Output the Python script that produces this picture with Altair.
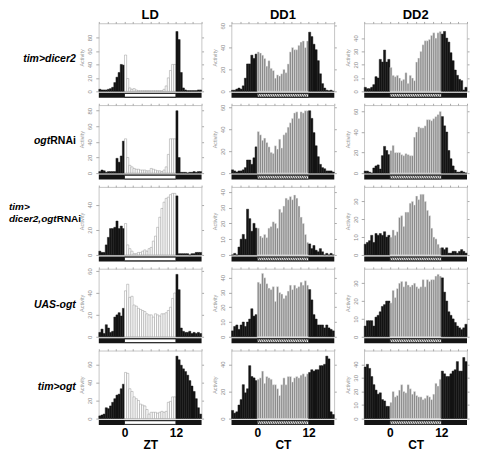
import altair as alt
import pandas as pd

FONT = "Liberation Sans"
HOURS = [-6 + 0.5 * i for i in range(48)]
CONDITIONS = ["LD", "DD1", "DD2"]
XLABELS = {"LD": "ZT", "DD1": "CT", "DD2": "CT"}
TICK_LABELS = [0, 12]
TOP_TICKS = [-6, -4, -2, 0, 2, 4, 6, 8, 10, 12, 14, 16, 18]
DAY_SPAN = [0, 12]
FULL_SPAN = [-6, 18]

# ---- activity values (half-hour bins, ZT/CT -6 .. 18) ----
r1_ld = [3, 2, 2, 2, 3, 4, 6, 13, 21, 28, 40, 39,
         54, 19, 5, 3, 4, 2, 1, 1, 1, 1, 1, 1, 1, 1, 1, 1, 1, 1, 3, 8, 20, 31, 40, 40,
         89, 77, 28, 5, 2, 1, 1, 1, 1, 1, 2, 2]
r1_dd1 = [1, 1, 2, 3, 2, 5, 12, 25, 25, 33, 30, 34,
          36, 35, 33, 30, 23, 28, 21, 19, 12, 15, 14, 16, 20, 17, 25, 36, 40, 38, 38, 42, 45, 46, 40, 46,
          54, 50, 43, 38, 28, 16, 7, 3, 1, 0.5, 1, 0]
r1_dd2 = [3, 2, 2, 3, 5, 11, 10, 24, 22, 31, 22, 24,
          18, 12, 11, 12, 10, 8, 9, 14, 6, 12, 10, 8, 22, 25, 30, 35, 38, 38, 39, 42, 44, 40, 44, 45,
          43, 45, 40, 37, 29, 23, 16, 12, 9, 8, 1, 3]
r2_ld = [2, 4, 3, 1, 2, 2, 2, 2, 19, 14, 22, 41,
         44, 20, 10, 8, 6, 5, 5, 4, 4, 4, 3, 3, 6, 5, 4, 3, 3, 2, 4, 8, 24, 44, 44, 44,
         80, 20, 1, 1, 1, 0, 1, 1, 2, 1, 2, 2]
r2_dd1 = [3, 2, 1, 2, 2, 3, 5, 12, 12, 8, 14, 24,
          38, 35, 30, 32, 28, 24, 19, 18, 25, 22, 31, 23, 35, 37, 42, 46, 50, 55, 56, 50, 56, 55, 57, 57,
          57, 50, 37, 25, 15, 8, 5, 4, 2, 2, 2, 1]
r2_dd2 = [2, 2, 1, 0, 5, 7, 8, 4, 17, 26, 22, 18,
          22, 27, 20, 20, 20, 18, 17, 19, 18, 17, 17, 35, 40, 45, 44, 44, 46, 52, 52, 51, 53, 55, 57, 60,
          55, 46, 40, 22, 14, 7, 3, 1, 1, 2, 1, 0]
r3_ld = [3, 2, 2, 8, 14, 21, 21, 22, 27, 21, 23, 21,
         25, 8, 5, 3, 1, 1, 2, 2, 3, 4, 3, 5, 6, 11, 15, 22, 30, 37, 42, 45, 46, 48, 49, 49,
         47, 1, 1, 1, 1, 1, 0, 1, 1, 2, 2, 2]
r3_dd1 = [0, 1, 0, 5, 10, 13, 10, 29, 23, 15, 20, 17,
          17, 12, 11, 13, 11, 17, 18, 21, 20, 17, 29, 27, 31, 36, 35, 37, 35, 38, 36, 31, 24, 20, 13, 8,
          7, 4, 6, 3, 2, 4, 2, 0, 1, 0, 1, 0]
r3_dd2 = [6, 7, 8, 11, 7, 12, 11, 12, 11, 13, 10, 11,
          10, 14, 11, 13, 21, 22, 16, 24, 24, 29, 30, 28, 33, 31, 34, 34, 30, 25, 22, 15, 10, 9, 6, 4,
          4, 3, 4, 1, 1, 2, 2, 1, 2, 3, 2, 1]
r4_ld = [4, 7, 3, 11, 8, 4, 5, 18, 20, 22, 19, 26,
         42, 48, 36, 37, 29, 28, 26, 25, 24, 23, 21, 20, 20, 18, 21, 20, 19, 21, 21, 22, 24, 27, 35, 40,
         57, 43, 8, 5, 4, 4, 5, 3, 4, 3, 4, 3]
r4_dd1 = [4, 7, 8, 5, 8, 10, 7, 10, 12, 19, 14, 15,
          37, 36, 43, 40, 36, 33, 32, 34, 24, 34, 30, 29, 26, 28, 31, 35, 32, 35, 33, 34, 37, 35, 38, 35,
          32, 25, 15, 12, 8, 8, 8, 6, 8, 6, 5, 4]
r4_dd2 = [6, 9, 9, 9, 6, 11, 12, 14, 17, 18, 20, 20,
          19, 26, 22, 27, 30, 31, 28, 31, 29, 28, 29, 30, 28, 27, 28, 32, 28, 32, 31, 32, 32, 34, 35, 34,
          33, 25, 20, 14, 12, 10, 8, 6, 5, 4, 5, 7]
r5_ld = [3, 4, 5, 12, 11, 14, 18, 22, 26, 27, 33, 38,
         51, 50, 33, 30, 24, 22, 20, 16, 15, 14, 10, 5, 7, 7, 7, 6, 7, 8, 7, 8, 18, 19, 24, 24,
         69, 65, 59, 55, 52, 48, 42, 36, 30, 22, 12, 5]
r5_dd1 = [6, 4, 5, 10, 14, 25, 19, 22, 39, 31, 30, 28,
          29, 30, 35, 26, 31, 30, 29, 25, 25, 22, 17, 25, 30, 25, 31, 31, 27, 30, 31, 30, 32, 33, 31, 33,
          34, 36, 35, 36, 36, 39, 39, 40, 46, 44, 5, 3]
r5_dd2 = [38, 40, 37, 31, 25, 21, 18, 19, 14, 13, 9, 9,
          12, 20, 16, 17, 21, 25, 20, 19, 25, 22, 18, 20, 17, 16, 16, 14, 15, 17, 16, 14, 18, 26, 24, 29,
          35, 33, 31, 31, 33, 35, 36, 42, 35, 35, 45, 42]

ROWS = [
    [r1_ld, r1_dd1, r1_dd2],
    [r2_ld, r2_dd1, r2_dd2],
    [r3_ld, r3_dd1, r3_dd2],
    [r4_ld, r4_dd1, r4_dd2],
    [r5_ld, r5_dd1, r5_dd2],
]
Y_TOP = [[101, 62, 51], [87, 62, 66], [54, 43, 38], [62, 46, 38], [75, 50, 50]]
Y_TICKS = [
    [[0, 20, 40, 60, 80], [0, 20, 40, 60], [0, 10, 20, 30, 40]],
    [[0, 20, 40, 60, 80], [0, 20, 40, 60], [0, 20, 40, 60]],
    [[0, 20, 40], [0, 10, 20, 30, 40], [0, 10, 20, 30]],
    [[0, 20, 40, 60], [0, 10, 20, 30, 40], [0, 10, 20, 30]],
    [[0, 20, 40, 60], [0, 20, 40], [0, 10, 20, 30, 40]],
]
HATCH_STEP = 0.42

PW, PH = 103, 68
XSCALE = alt.Scale(domain=FULL_SPAN, nice=False, zero=False, padding=0)


def panel(values, cond, ymax, ticks, bottom, title):
    day_phase = "light" if cond == "LD" else "subjective"
    phase = [day_phase if DAY_SPAN[0] <= h < DAY_SPAN[1] else "dark" for h in HOURS]
    df = pd.DataFrame({"start": HOURS, "end": [h + 0.5 for h in HOURS],
                       "value": values, "zero": [0] * len(HOURS), "phase": phase})
    yscale = alt.Scale(domain=[0, ymax], nice=False, zero=True)
    bars = alt.Chart(df).mark_rect(strokeWidth=0.45).encode(
        x=alt.X("start:Q", scale=XSCALE,
                axis=alt.Axis(orient="top", values=TOP_TICKS, labels=False, tickSize=2,
                              tickColor="#aaaaaa", domain=False, grid=False, title=None)),
        x2="end:Q",
        y=alt.Y("value:Q", scale=yscale,
                axis=alt.Axis(orient="left", values=ticks, title="Activity",
                              titleFontSize=5.5, titleColor="#999999", titleFontWeight="normal",
                              titlePadding=2, labelFontSize=6, labelColor="#8a8a8a",
                              labelAngle=270, labelAlign="center", labelBaseline="bottom",
                              labelPadding=3, tickSize=3, tickColor="#aaaaaa",
                              domain=False, grid=False)),
        y2="zero:Q",
        color=alt.Color("phase:N", legend=None,
                        scale=alt.Scale(domain=["dark", "light", "subjective"],
                                        range=["#141414", "#ffffff", "#8a8a8a"])),
        stroke=alt.Stroke("phase:N", legend=None,
                          scale=alt.Scale(domain=["dark", "light", "subjective"],
                                          range=["#141414", "#8c8c8c", "#f2f2f2"])),
    )
    ghost = alt.Chart(df).mark_point(opacity=0).encode(
        x=alt.X("start:Q", scale=XSCALE, axis=None),
        y=alt.Y("value:Q", scale=yscale,
                axis=alt.Axis(orient="right", values=ticks, labels=False, tickSize=2,
                              tickColor="#aaaaaa", domain=False, grid=False, title=None)),
    )
    if bottom:
        baxis = alt.Axis(orient="bottom", values=TICK_LABELS, labelFontSize=12,
                         labelFontWeight="bold", labelColor="black", ticks=False,
                         domain=False, grid=False, title=XLABELS[cond], titleFontSize=12,
                         titleFontWeight="bold", titleColor="black", offset=7,
                         labelPadding=2, titlePadding=1)
    else:
        baxis = None
    strip_bg = alt.Chart(pd.DataFrame({"start": [FULL_SPAN[0]], "end": [FULL_SPAN[1]]})).mark_rect(
        color="#141414").encode(
        x=alt.X("start:Q", scale=XSCALE, axis=baxis),
        x2="end:Q",
        y=alt.value(PH + 1.5), y2=alt.value(PH + 6.5),
    )
    strip_day = alt.Chart(pd.DataFrame({"start": [DAY_SPAN[0]], "end": [DAY_SPAN[1]]})).mark_rect(
        fill="#ffffff", stroke="#141414", strokeWidth=0.8).encode(
        x=alt.X("start:Q", scale=XSCALE, axis=None),
        x2="end:Q",
        y=alt.value(PH + 2.2), y2=alt.value(PH + 5.8),
    )
    layers = [bars, ghost, strip_bg, strip_day]
    if cond != "LD":
        n = int((DAY_SPAN[1] - DAY_SPAN[0]) / HATCH_STEP)
        hx = [DAY_SPAN[0] + HATCH_STEP * i for i in range(n)]
        hdf = pd.DataFrame({"start": hx, "end": [h + HATCH_STEP for h in hx]})
        hatch = alt.Chart(hdf).mark_rule(color="#222222", strokeWidth=0.8).encode(
            x=alt.X("start:Q", scale=XSCALE, axis=None),
            x2="end:Q",
            y=alt.value(PH + 6), y2=alt.value(PH + 2),
        )
        layers.append(hatch)
    ch = alt.layer(*layers).resolve_axis(x="independent", y="independent")
    props = dict(width=PW, height=PH)
    if title:
        props["title"] = alt.TitleParams(text=cond, fontSize=13, fontWeight="bold", font=FONT,
                                          offset=-1, anchor="middle", color="black")
    return ch.properties(**props)


def text_layer(txt, x, y, align, italic, size=10.5):
    return alt.Chart(pd.DataFrame({"t": [txt]})).mark_text(
        font=FONT, fontSize=size, fontWeight="bold", fontStyle="italic" if italic else "normal",
        align=align, baseline="middle", color="black").encode(
        text="t:N", x=alt.value(x), y=alt.value(y))


RIGHT = 67
LABEL_PARTS = [
    [("tim>dicer2", RIGHT, 36, "right", True)],
    [("RNAi", RIGHT, 36, "right", False), ("ogt", RIGHT - 25.7, 36, "right", True)],
    [("tim>", 0, 20, "left", True, 10), ("dicer2,ogt", 0, 32, "left", True, 10),
     ("RNAi", 47.8, 32, "left", False, 10)],
    [("UAS-ogt", RIGHT, 36, "right", True)],
    [("tim>ogt", RIGHT, 36, "right", True)],
]

cells = []
for r, vals in enumerate(ROWS):
    label = alt.layer(*[text_layer(*p) for p in LABEL_PARTS[r]]).properties(
        width=60, height=PH, view=alt.ViewBackground(stroke="transparent"))
    cells.append(label)
    for c in range(3):
        cells.append(panel(vals[c], CONDITIONS[c], Y_TOP[r][c], Y_TICKS[r][c], r == 4, r == 0))

chart = alt.concat(*cells, columns=4, spacing={"row": 14, "column": 30},
                   bounds="flush").properties(padding=0).configure_view(
    stroke="#b8b8b8", strokeWidth=0.8).configure_axis(labelFont=FONT, titleFont=FONT)

chart.save("out.html", embed_options={"renderer": "svg", "actions": False})
